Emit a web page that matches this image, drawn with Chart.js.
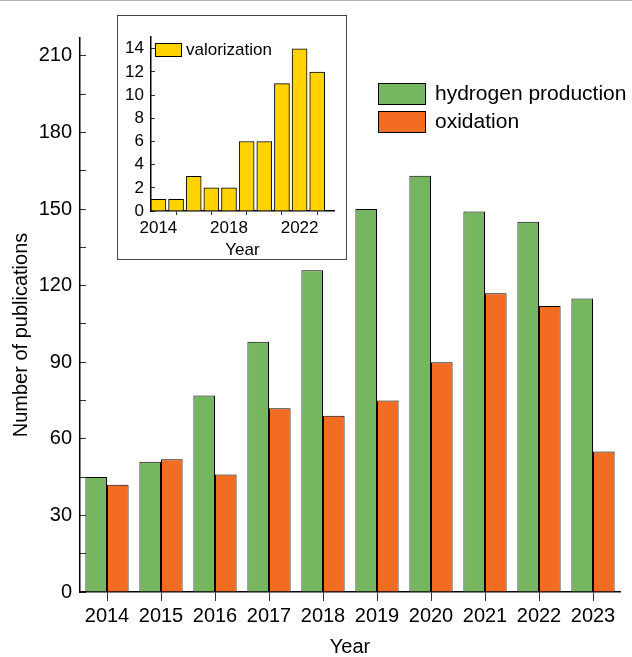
<!DOCTYPE html>
<html>
<head>
<meta charset="utf-8">
<script src="https://cdn.jsdelivr.net/npm/chart.js@4.4.1/dist/chart.umd.min.js"></script>
<style>
    html, body { margin: 0; padding: 0; background: #fff; }
    #wrap { position: relative; width: 632px; height: 657px; }
    #topLine { position: absolute; left: 0; top: 0; width: 632px; height: 1px; background: #b4b4b4; }
    #main { position: absolute; left: 0; top: 0; }
    #insetBox { position: absolute; left: 117px; top: 15px; width: 230px; height: 245px; border: 1px solid #444; box-sizing: border-box; background: #fff; }
    #inset { position: absolute; left: 0; top: 0; }
</style>
</head>
<body>
<div id="wrap">
    <canvas id="main" width="632" height="657"></canvas>
    <div id="topLine"></div>
    <div id="insetBox"><canvas id="inset" width="228" height="243"></canvas></div>
</div>
<script>
// ===========================
// DATOS
// ===========================
const years = ['2014', '2015', '2016', '2017', '2018', '2019', '2020', '2021', '2022', '2023'];
const hydrogen = [45, 51, 77, 98, 126, 150, 163, 149, 145, 115];
const oxidation = [42, 52, 46, 72, 69, 75, 90, 117, 112, 55];

const insetYears = [2014, 2015, 2016, 2017, 2018, 2019, 2020, 2021, 2022, 2023];
const valorization = [1, 1, 3, 2, 2, 6, 6, 11, 14, 12];

const mainYTicks = [0, 15, 30, 45, 60, 75, 90, 105, 120, 135, 150, 165, 180, 195, 210];
const insetYTicks = [0, 1, 2, 3, 4, 5, 6, 7, 8, 9, 10, 11, 12, 13, 14];
const insetXTicks = [2014, 2016, 2018, 2020, 2022];
const insetXLabels = [2014, 2018, 2022];

const FONT = 'Liberation Sans, Arial, sans-serif';
Chart.defaults.font.family = FONT;
Chart.defaults.color = '#000';
Chart.defaults.animation = false;

// ===========================
// LEYENDA DENTRO DEL GRÁFICO
// ===========================
const boxLegend = {
    id: 'boxLegend',
    afterDraw(chart, args, opts) {
        const ctx = chart.ctx;
        ctx.save();
        ctx.font = opts.size + 'px ' + FONT;
        ctx.textBaseline = 'middle';
        chart.data.datasets.forEach((ds, i) => {
            const y = opts.y + i * opts.step;
            ctx.fillStyle = ds.backgroundColor;
            ctx.fillRect(opts.x, y, opts.w, opts.h);
            ctx.lineWidth = 1;
            ctx.strokeStyle = '#000';
            ctx.strokeRect(opts.x + 0.5, y + 0.5, opts.w, opts.h);
            ctx.fillStyle = '#000';
            ctx.fillText(ds.label, opts.x + opts.w + opts.gap, y + opts.h / 2 + 1);
        });
        ctx.restore();
    }
};

// Título del eje Y dibujado a mano (centrado como en la figura)
const yTitle = {
    id: 'yTitle',
    afterDraw(chart, args, opts) {
        const ctx = chart.ctx;
        ctx.save();
        ctx.font = opts.size + 'px ' + FONT;
        ctx.fillStyle = '#000';
        ctx.textAlign = 'center';
        ctx.textBaseline = 'alphabetic';
        ctx.translate(opts.x, opts.y);
        ctx.rotate(-Math.PI / 2);
        ctx.fillText(opts.text, 0, 0);
        ctx.restore();
    }
};

// ===========================
// GRÁFICO PRINCIPAL
// ===========================
new Chart(document.getElementById('main'), {
    type: 'bar',
    data: {
        labels: years,
        datasets: [{
            label: 'hydrogen production',
            data: hydrogen,
            backgroundColor: '#77b661',
            borderColor: '#000',
            borderWidth: 1
        }, {
            label: 'oxidation',
            data: oxidation,
            backgroundColor: '#f26d21',
            borderColor: '#000',
            borderWidth: 1
        }]
    },
    options: {
        responsive: false,
        layout: { padding: { top: 38, right: 12, bottom: 0, left: 0 } },
        categoryPercentage: 0.8,
        barPercentage: 1.0,
        plugins: {
            legend: { display: false },
            tooltip: { enabled: false },
            boxLegend: { x: 378, y: 83, w: 47, h: 21, step: 28, gap: 10, size: 21 },
            yTitle: { x: 27, y: 335, size: 20, text: 'Number of publications' }
        },
        scales: {
            x: {
                offset: true,
                afterFit: (s) => { s.height = 65; },
                grid: { display: true, drawOnChartArea: false, offset: false, tickLength: 9, color: '#333' },
                border: { display: true, color: '#000', width: 1.5 },
                ticks: { font: { size: 20 }, padding: 3, maxRotation: 0, autoSkip: false },
                title: { display: true, text: 'Year', font: { size: 20, lineHeight: 1 }, padding: { top: 0, bottom: 0 } }
            },
            y: {
                min: 0,
                max: 217,
                afterFit: (s) => { s.width = 80; },
                afterBuildTicks: (s) => { s.ticks = mainYTicks.map(v => ({ value: v })); },
                grid: { display: true, drawOnChartArea: false, tickLength: -6, color: '#333' },
                border: { display: true, color: '#000', width: 1.5 },
                ticks: {
                    font: { size: 20 },
                    padding: 14,
                    callback: (v) => (v % 30 === 0 ? v : '')
                }
            }
        }
    },
    plugins: [boxLegend, yTitle]
});

// ===========================
// GRÁFICO INSERTADO: VALORIZATION
// ===========================
new Chart(document.getElementById('inset'), {
    type: 'bar',
    data: {
        datasets: [{
            label: 'valorization',
            data: insetYears.map((yr, i) => ({ x: yr, y: valorization[i] })),
            backgroundColor: '#ffd200',
            borderColor: '#000',
            borderWidth: 1,
            barThickness: 15
        }]
    },
    options: {
        responsive: false,
        layout: { padding: { top: 11, right: 12, bottom: 0, left: 0 } },
        plugins: {
            legend: { display: false },
            tooltip: { enabled: false },
            boxLegend: { x: 37, y: 27, w: 26, h: 13, step: 0, gap: 5, size: 17 }
        },
        scales: {
            x: {
                type: 'linear',
                offset: false,
                min: 2013.58,
                max: 2023.95,
                afterFit: (s) => { s.height = 48; },
                afterBuildTicks: (s) => { s.ticks = insetXTicks.map(v => ({ value: v })); },
                grid: { display: true, drawOnChartArea: false, tickLength: 4, color: '#333' },
                border: { display: true, color: '#000', width: 1.5 },
                ticks: {
                    font: { size: 17 },
                    padding: 3,
                    maxRotation: 0,
                    autoSkip: false,
                    callback: (v) => (insetXLabels.includes(v) ? String(v) : '')
                },
                title: { display: true, text: 'Year', font: { size: 17, lineHeight: 1 }, padding: { top: 0, bottom: 0 } }
            },
            y: {
                min: 0,
                max: 15,
                afterFit: (s) => { s.width = 33; },
                afterBuildTicks: (s) => { s.ticks = insetYTicks.map(v => ({ value: v })); },
                grid: { display: true, drawOnChartArea: false, tickLength: -4, color: '#333' },
                border: { display: true, color: '#000', width: 1.5 },
                ticks: {
                    font: { size: 17 },
                    padding: 11,
                    callback: (v) => (v % 2 === 0 ? v : '')
                }
            }
        }
    },
    plugins: [boxLegend]
});
</script>
</body>
</html>
